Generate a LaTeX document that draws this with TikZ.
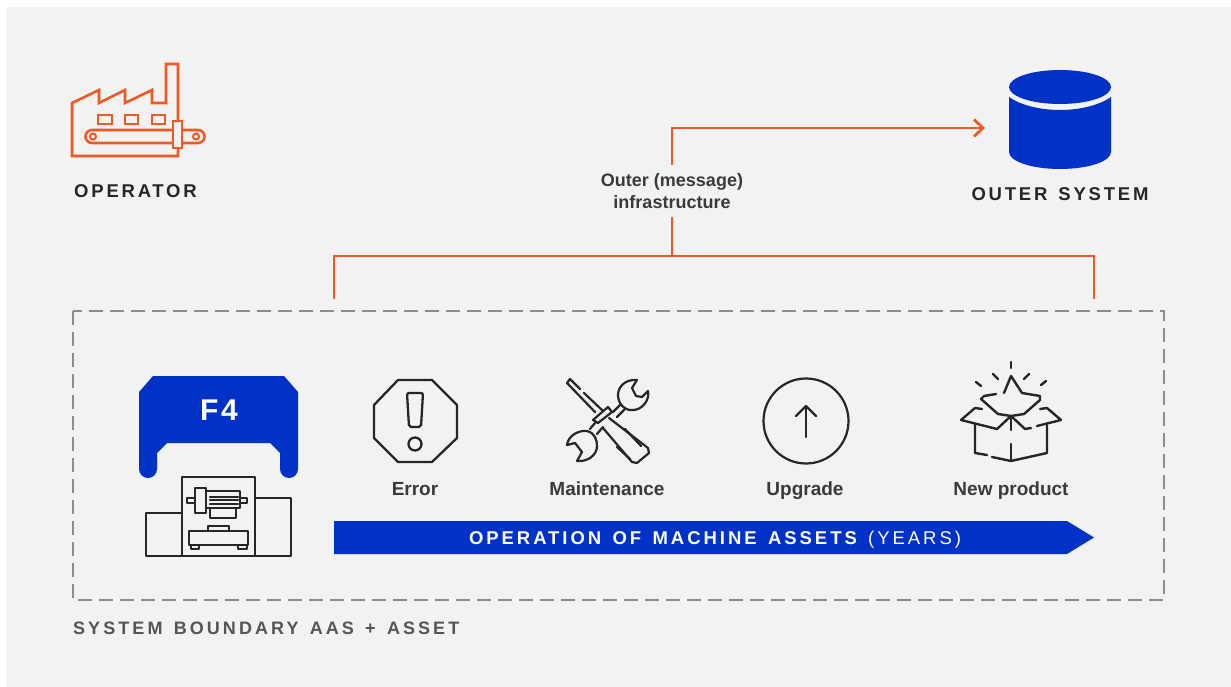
\documentclass[tikz,border=0pt]{standalone}
\usepackage{fontspec}
\setmainfont{Liberation Sans}
\newfontfamily\capsfont[LetterSpace=15,WordSpace=1.4]{Liberation Sans}
\newfontfamily\bandfont[LetterSpace=16,WordSpace=1.4]{Liberation Sans}
\newfontfamily\boundfont[LetterSpace=17,WordSpace=1.4]{Liberation Sans}
\usetikzlibrary{arrows.meta}
\definecolor{bgc}{HTML}{F2F2F2}
\definecolor{orangec}{HTML}{EE5A24}
\definecolor{bluec}{HTML}{0032C8}
\definecolor{inkc}{HTML}{262626}
\definecolor{dashc}{HTML}{8C8C8C}
\definecolor{boundc}{HTML}{555555}
\definecolor{labelc}{HTML}{3A3A3A}
\tikzset{
 x=1pt,y=-1pt,
 wire/.style={draw=orangec,line width=2.8pt},
 icon/.style={draw=orangec,line width=2.6pt,line join=miter},
 ink/.style={draw=inkc,line width=2.2pt,line join=round,line cap=round},
 capslabel/.style={font=\capsfont\bfseries\fontsize{18.5}{20}\selectfont,text=inkc,inner sep=0pt,anchor=base},
 smalllabel/.style={font=\bfseries\fontsize{19}{20}\selectfont,text=labelc,inner sep=0pt,anchor=base},
}
\begin{document}
\begin{tikzpicture}
\useasboundingbox (0,0) rectangle (1231,687);
\fill[white] (0,0) rectangle (1231,687);
\fill[bgc] (7,7) rectangle (1231,687);

% factory icon
\draw[icon] (178,122) -- (178,64) -- (166,64) -- (166,103) -- (152,103) -- (152,90) -- (125,103) -- (125,90) -- (99,103) -- (99,90) -- (72,103) -- (72,156) -- (178,156) -- (178,148);
\draw[icon] (98,115) rectangle (112,124);
\draw[icon] (125,115) rectangle (138,124);
\draw[icon] (152,115) rectangle (165,124);
\draw[icon,fill=bgc] (92,130) -- (198,130) arc[start angle=-90,end angle=90,radius=6.5] -- (92,143) arc[start angle=90,end angle=270,radius=6.5] -- cycle;
\draw[icon,line width=2pt] (93,136.5) circle (3);
\draw[icon,line width=2pt] (196,136.5) circle (3);
\draw[icon,fill=bgc] (173,121) rectangle (182,148);
\node[capslabel] (operator) at (135.5,197) {OPERATOR};

% database
\fill[bluec] (1009,97) .. controls (1020,105) and (1040,110) .. (1060,110) .. controls (1080,110) and (1100,105) .. (1111,97) -- (1111,152) arc[start angle=0,end angle=180,x radius=51,y radius=17] -- cycle;
\fill[bluec] (1060,87) ellipse (51 and 17);
\coordinate (db) at (985,128);
\node[capslabel] (outer) at (1060,200.5) {OUTER SYSTEM};

% connectors
\coordinate (hub) at (672,256);
\coordinate (leftdrop) at (334,299);
\coordinate (rightdrop) at (1094,299);
\draw[wire] (leftdrop) |- (hub) -| (rightdrop);
\node[font=\bfseries\fontsize{18}{22}\selectfont,text=labelc,inner sep=0pt,align=center,minimum height=52pt,minimum width=144pt] (infra) at (672,191) {Outer (message)\\infrastructure};
\draw[wire] (hub) -- (infra.south);
\draw[wire,-{Straight Barb[length=9pt,width=17pt,line width=2.8pt]}] (infra.north) |- (db);

% boundary
\draw[draw=dashc,line width=2.2pt,dash pattern=on 14pt off 7pt] (73,311) rectangle (1164,600);
\node[font=\boundfont\bfseries\fontsize{18}{20}\selectfont,text=boundc,inner sep=0pt,anchor=base west] (boundary) at (73,634) {SYSTEM BOUNDARY AAS + ASSET};

% F4 blue shape
\fill[bluec] (153,376) -- (284,376) -- (298,392) -- (298,469) arc[start angle=0,end angle=180,radius=9] -- (280,453) -- (270,443) -- (167,443) -- (157,453) -- (157,469) arc[start angle=0,end angle=180,radius=9] -- (139,392) -- cycle;
\node[font=\bfseries\fontsize{30}{32}\selectfont,text=white,inner sep=0pt] (f4) at (219,410) {F\hspace{2.5pt}4};

% machine
\begin{scope}[ink]
\draw (146,556) rectangle (182,513);
\draw (182,556) rectangle (255,477);
\draw (255,556) -- (291,556) -- (291,498) -- (255,498);
\draw (195,488) rectangle (206,513);
\draw (206,491) rectangle (240,508);
\draw (187,498) rectangle (195,503);
\draw (240,498) rectangle (247,503);
\draw (210,497) -- (238,497) (210,500) -- (238,500) (210,504) -- (238,504);
\draw (210,508) rectangle (236,518);
\draw (189,531) rectangle (248,545);
\draw (208,526) rectangle (229,531);
\draw (191,545) rectangle (199,549) (238,545) rectangle (247,549);
\end{scope}

% error
\draw[ink,line width=2.3pt] (398,380) -- (432,380) -- (457,405) -- (457,438) -- (432,462) -- (398,462) -- (374,438) -- (374,405) -- cycle;
\draw[ink,line width=2.3pt,rounded corners=2pt] (407,393) -- (423,393) -- (421,427) -- (409,427) -- cycle;
\draw[ink,line width=2.3pt] (415,444) circle (6.5);
\node[smalllabel] (error) at (415,495) {Error};

% maintenance
\begin{scope}[ink]
% screwdriver
\draw (580,389) -- (570,379) -- (567,383) -- (595,412);
\draw (584,393) -- (602,410);
\draw (593,420) -- (608,407) -- (612,412) -- (598,423) -- cycle;
\draw (609,418) -- (648,448) -- (649,453) -- (637,463) -- (632,462) -- (603,428);
\draw (625,429) -- (641,446);
\draw (617,447) -- (630,459);
% wrench upper
\draw (613,412) -- (620,405);
\draw (617,417) -- (624,410);
\draw (637,380) .. controls (625,379) and (618,387) .. (618,395) .. controls (618,404) and (625,411) .. (633,410) .. controls (642,410) and (650,400) .. (648,391) -- (642,397) -- (636,396) -- (632,388) -- cycle;
% wrench lower
\draw (597,434) -- (603,427);
\draw (590,429) -- (595,423);
\draw (567,445) .. controls (568,436) and (578,430) .. (587,431) .. controls (595,433) and (597,440) .. (597,446) .. controls (597,455) and (588,462) .. (577,461) -- (582,452) -- (575,443) -- cycle;
\end{scope}
\node[smalllabel] (maint) at (607,495) {Maintenance};

% upgrade
\draw[ink] (806,421) circle (42.5);
\draw[ink] (806,437) -- (806,407);
\draw[ink] (796,416) -- (806,406) -- (816,416);
\node[smalllabel] (upgrade) at (805,495) {Upgrade};

% new product
\begin{scope}[ink,line width=2.4pt]
\draw (1011,362) -- (1011,368);
\draw (993,374) -- (998,379);
\draw (1029,374) -- (1024,379);
\draw (976,382) -- (981,386);
\draw (1046,381) -- (1041,385);
\draw (996,394) -- (984,396) -- (981,399) -- (998,414) -- (1011,416) -- (1024,414) -- (1040,400) -- (1040,396) -- (1022,393) -- (1011,376) -- (1004,393);
\draw (1011,416) -- (1011,430);
\draw (1011,444) -- (1011,461);
\draw (1011,416) -- (997,429) -- (961,420) -- (975,408) -- (982,409);
\draw (1011,416) -- (1025,429) -- (1031,428);
\draw (1037,426) -- (1061,420) -- (1047,408) -- (1040,409);
\draw (975,424) -- (975,453) -- (987,455);
\draw (992,457) -- (1011,461) -- (1047,453) -- (1047,425);
\end{scope}
\node[smalllabel] (newprod) at (1011,495) {New product};

% arrow banner
\fill[bluec] (334,521) -- (1067,521) -- (1094,537.5) -- (1067,554) -- (334,554) -- cycle;
\node[font=\bandfont\fontsize{18.5}{20}\selectfont,text=white,inner sep=0pt,anchor=base] (banner) at (715,544) {\bfseries OPERATION OF MACHINE ASSETS {\mdseries (YEARS)}};
\end{tikzpicture}
\end{document}
